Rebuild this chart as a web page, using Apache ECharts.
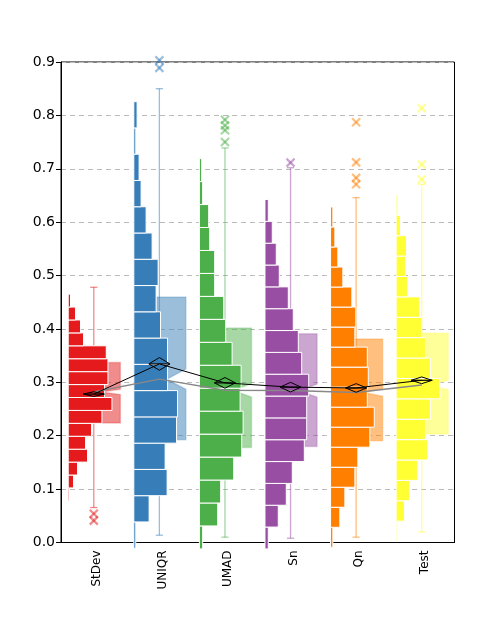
<!DOCTYPE html>
<html>
<head>
<meta charset="utf-8">
<title>Scale estimators</title>
<script src="https://cdn.jsdelivr.net/npm/echarts@6/dist/echarts.min.js"></script>
<style>
  body { margin: 0; background: #fff; }
  #main { width: 502px; height: 624px; }
</style>
</head>
<body>
<div id="main"></div>
<script type="text/javascript">
// categories and their Set1 colours
var categories = ['StDev', 'UNIQR', 'UMAD', 'Sn', 'Qn', 'Test'];
var colors = ['#E41A1C', '#377EB8', '#4DAF4A', '#984EA3', '#FF7F00', '#FFFF33'];

// histogram bins: lowest edge, bin width, counts (bottom -> top)
var histStart = [0.078, -0.0107, -0.012, -0.012, -0.009, 0.0017];
var histStep = [0.0242, 0.0492, 0.043, 0.0409, 0.0375, 0.0382];
var histStDev = [1.3, 5.3, 9.3, 19.3, 17.3, 23.3, 33.7, 43.7, 36.3, 39.7, 39.7, 38, 15.3, 12.3, 7.3, 2.3];
var histUNIQR = [2, 15.3, 33.3, 31.3, 42.7, 43.7, 33.7, 33.7, 26.7, 22.3, 24.3, 18.3, 12.3, 7.3, 5.3, 2, 3.3];
var histUMAD = [3.3, 18.3, 21.3, 34.3, 42.3, 43.7, 40.7, 41.7, 32.7, 26.3, 24.3, 15.3, 15.3, 10.3, 9.3, 3.3, 2.3];
var histSn = [3.3, 13.3, 21.3, 27.3, 39.3, 41.7, 41.7, 43.7, 36.7, 33.3, 28.3, 23.3, 14.3, 11.3, 7.3, 3.3];
var histQn = [2.3, 9.3, 14.3, 24.3, 27.3, 39.3, 43.7, 36.7, 37.7, 36.7, 24.3, 25.3, 21.3, 12.3, 7.3, 4.3, 2.3];
var histTest = [1, 8.3, 13.3, 21.3, 31.3, 29.3, 34.3, 43.7, 34.3, 29.3, 25.3, 23.3, 11.3, 9.3, 10.3, 4.3, 1.7];
var histCounts = [histStDev, histUNIQR, histUMAD, histSn, histQn, histTest];

// box plot statistics
var whiskerLow = [0.0655, 0.0137, 0.010, 0.008, 0.010, 0.020];
var q1 = [0.224, 0.1925, 0.178, 0.180, 0.1906, 0.203];
var median = [0.282, 0.306, 0.285, 0.2845, 0.281, 0.295];
var q3 = [0.337, 0.460, 0.402, 0.391, 0.381, 0.392];
var whiskerHigh = [0.478, 0.850, 0.739, 0.702, 0.646, 0.671];
var notch = [0.005, 0.019, 0.0125, 0.012, 0.007, 0.009];
var outliers = [[0.054, 0.041], [0.903, 0.889], [0.792, 0.781, 0.772, 0.750], [0.7115], [0.787, 0.712, 0.683, 0.671], [0.8135, 0.708, 0.680]];

// means with their interval half-width
var mean = [0.278, 0.3345, 0.299, 0.291, 0.2895, 0.3038];
var meanCI = [0.0044, 0.0119, 0.010, 0.009, 0.0081, 0.0063];

function fade(hex, a) {
	var n = parseInt(hex.slice(1), 16);
	return 'rgba(' + (n >> 16) + ',' + ((n >> 8) & 255) + ',' + (n & 255) + ',' + a + ')';
}

// build series data
var histData = [];
for (var i = 0; i < categories.length; i++) {
	var counts = histCounts[i];
	var mx = Math.max.apply(null, counts);
	for (var j = 0; j < counts.length; j++) {
		histData.push([i, histStart[i] + j * histStep[i], histStart[i] + (j + 1) * histStep[i], counts[j], mx]);
	}
}
var boxData = categories.map(function (c, i) {
	return [i, whiskerLow[i], q1[i], median[i], q3[i], whiskerHigh[i], notch[i]];
});
var outlierData = [];
outliers.forEach(function (list, i) {
	list.forEach(function (v) { outlierData.push([i, v]); });
});
var diamondData = categories.map(function (c, i) { return [i, mean[i], meanCI[i]]; });

function renderHist(params, api) {
	var i = api.value(0);
	var band = api.size([1, 0])[0];
	var p0 = api.coord([i, api.value(1)]);
	var p1 = api.coord([i, api.value(2)]);
	var x0 = p0[0] - band / 2 + band * 0.11;
	var w = api.value(3) / api.value(4) * band * 0.667;
	return {
		type: 'rect',
		shape: { x: x0, y: p1[1], width: w, height: p0[1] - p1[1] },
		style: { fill: colors[i], stroke: '#fff', lineWidth: 1 }
	};
}

function renderBox(params, api) {
	var i = api.value(0);
	var band = api.size([1, 0])[0];
	var cx = api.coord([i, 0])[0];
	var y = function (v) { return api.coord([i, v])[1]; };
	var yLo = y(api.value(1)), yQ1 = y(api.value(2)), yMed = y(api.value(3));
	var yQ3 = y(api.value(4)), yHi = y(api.value(5));
	var yNt = y(api.value(3) + api.value(6)), yNb = y(api.value(3) - api.value(6));
	var xl = cx - band * 0.04, xr = cx + band * 0.405;
	var xn = xl + (xr - xl) * 0.35;
	var cap = band * 0.055;
	var lineStyle = { stroke: fade(colors[i], 0.5), lineWidth: 1.3 };
	return {
		type: 'group',
		children: [
			{ type: 'line', shape: { x1: cx, y1: yLo, x2: cx, y2: yHi }, style: lineStyle },
			{ type: 'line', shape: { x1: cx - cap, y1: yLo, x2: cx + cap, y2: yLo }, style: lineStyle },
			{ type: 'line', shape: { x1: cx - cap, y1: yHi, x2: cx + cap, y2: yHi }, style: lineStyle },
			{
				type: 'polygon',
				shape: { points: [[xl, yQ3], [xr, yQ3], [xr, yNt], [xn, yMed], [xr, yNb], [xr, yQ1], [xl, yQ1]] },
				style: { fill: fade(colors[i], 0.5), stroke: fade(colors[i], 0.25), lineWidth: 1.5 }
			}
		]
	};
}

function renderCross(params, api) {
	var i = api.value(0);
	var p = api.coord([i, api.value(1)]);
	var s = 4;
	var st = { stroke: fade(colors[i], 0.5), lineWidth: 2.2 };
	return {
		type: 'group',
		children: [
			{ type: 'line', shape: { x1: p[0] - s, y1: p[1] - s, x2: p[0] + s, y2: p[1] + s }, style: st },
			{ type: 'line', shape: { x1: p[0] - s, y1: p[1] + s, x2: p[0] + s, y2: p[1] - s }, style: st }
		]
	};
}

function renderDiamond(params, api) {
	var i = api.value(0);
	var band = api.size([1, 0])[0];
	var p = api.coord([i, api.value(1)]);
	var top = api.coord([i, api.value(1) + api.value(2)])[1];
	var bot = api.coord([i, api.value(1) - api.value(2)])[1];
	var hw = band * 0.16;
	return {
		type: 'group',
		children: [
			{ type: 'polygon', shape: { points: [[p[0] - hw, p[1]], [p[0], top], [p[0] + hw, p[1]], [p[0], bot]] },
				style: { fill: 'none', stroke: '#000', lineWidth: 1 } },
			{ type: 'line', shape: { x1: p[0] - hw, y1: p[1], x2: p[0] + hw, y2: p[1] }, style: { stroke: '#000', lineWidth: 1.2 } }
		]
	};
}

var myChart = echarts.init(document.getElementById('main'));
var option = {
	animation: false,
	backgroundColor: '#fff',
	grid: { left: 61, right: 47.5, top: 62, bottom: 81.5, show: true, borderColor: '#000', borderWidth: 1 },
	xAxis: {
		type: 'category',
		data: categories,
		boundaryGap: true,
		axisLine: { lineStyle: { color: '#000', width: 1 } },
		axisTick: { show: false },
		axisLabel: {
			rotate: 90, margin: 8, color: '#000', fontSize: 12, fontFamily: 'DejaVu Sans',
			verticalAlign: 'top', lineHeight: 6
		},
		splitLine: { show: false }
	},
	yAxis: {
		type: 'value',
		min: 0,
		max: 0.9,
		interval: 0.1,
		axisLine: { show: true, lineStyle: { color: '#000', width: 1 } },
		axisTick: { show: true, length: 5, lineStyle: { color: '#000' } },
		axisLabel: {
			margin: 6, color: '#000', fontSize: 14, fontFamily: 'DejaVu Sans',
			formatter: function (v) { return v.toFixed(1); }
		},
		splitLine: { show: true, lineStyle: { color: '#bbb', type: [5, 4], width: 1 } }
	},
	series: [
		{ type: 'custom', name: 'box', z: 2, renderItem: renderBox, data: boxData, encode: { x: 0, y: [1, 5] } },
		{ type: 'custom', name: 'hist', z: 3, renderItem: renderHist, data: histData, encode: { x: 0, y: [1, 2] } },
		{ type: 'custom', name: 'outliers', z: 4, renderItem: renderCross, data: outlierData, encode: { x: 0, y: 1 } },
		{ type: 'line', name: 'median', z: 5, data: median, symbol: 'none', lineStyle: { color: '#888', width: 1.5 } },
		{ type: 'line', name: 'mean', z: 6, data: mean, symbol: 'none', lineStyle: { color: '#000', width: 1 } },
		{ type: 'custom', name: 'meanCI', z: 7, renderItem: renderDiamond, data: diamondData, encode: { x: 0, y: 1 } }
	]
};
myChart.setOption(option);
</script>
</body>
</html>
